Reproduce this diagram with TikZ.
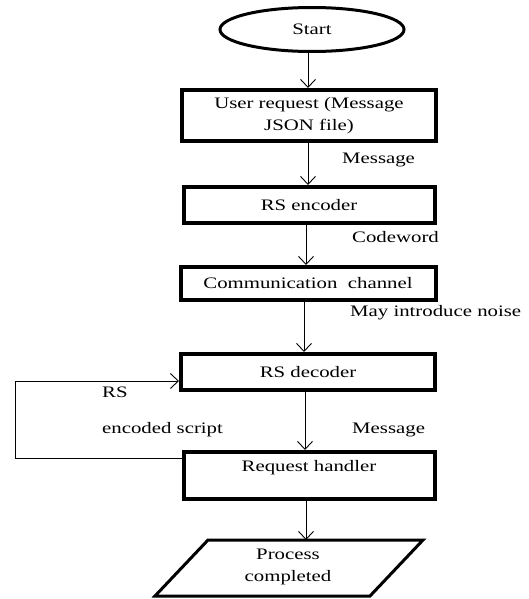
\documentclass[tikz,border=0pt]{standalone}
\usepackage{fontspec}
\setmainfont[FakeStretch=1.3]{Liberation Serif}
\usetikzlibrary{arrows.meta,shapes.geometric,calc}
\begin{document}
\begin{tikzpicture}[x=1pt,y=-1pt,
  font=\fontsize{16}{22}\selectfont,
  boxnode/.style={draw,line width=4pt,rectangle,inner sep=0pt,align=center},
  lbl/.style={anchor=west,inner sep=0pt},
  arr/.style={-{Straight Barb[length=8pt,width=15pt]},line width=0.9pt},
  thin line/.style={line width=0.9pt}]
\useasboundingbox (0,0) rectangle (529,599);
\node[draw,ellipse,line width=3pt,minimum width=184pt,minimum height=44pt,inner sep=0pt] (start) at (312,29.5) {Start};
\node[boxnode,minimum width=254pt,minimum height=51pt] (user) at (309,115.5) {User request (Message\\JSON file)};
\node[boxnode,minimum width=251pt,minimum height=36pt] (enc) at (309,205) {RS encoder};
\node[boxnode,minimum width=255pt,minimum height=33pt] (chan) at (308,283.5) {Communication\ \ channel};
\node[boxnode,minimum width=254pt,minimum height=36pt] (dec) at (308,372) {RS decoder};
\node[boxnode,minimum width=251pt,minimum height=47pt,text height=12pt,text depth=20pt] (hand) at (309,475.5) {Request handler};
% parallelogram
\coordinate (pTL) at (208,540);
\coordinate (pTR) at (423,540);
\coordinate (pBR) at (370,596);
\coordinate (pBL) at (155,596);
\draw[line width=3pt,line join=miter] (pTL) -- (pTR) -- (pBR) -- (pBL) -- cycle;
\node[align=center,inner sep=0pt] (proc) at (288,567) {Process\\completed};
\coordinate (procTop) at (306,540);
% arrows
\draw[arr] (start.south -| 308,0) -- (user.north -| 308,0);
\draw[arr] (user.south -| 308,0) -- (enc.north -| 308,0);
\draw[arr] (enc.south -| 306,0) -- (chan.north -| 306,0);
\draw[arr] (chan.south -| 304,0) -- (dec.north -| 304,0);
\draw[arr] (dec.south -| 305,0) -- (hand.north -| 305,0);
\draw[arr] (hand.south -| 306,0) -- (procTop);
% feedback loop
\coordinate (loopA) at ([yshift=17.5pt]hand.west);
\coordinate (loopB) at ([yshift=-9pt]dec.west);
\draw[arr] (loopA) -- (15,0 |- loopA) -- (15,0 |- loopB) -- (loopB);
% labels
\node[lbl] (m1) at (342,160) {Message};
\node[lbl] (cw) at (352,237) {Codeword};
\node[lbl] (noise) at (350,313) {May introduce noise};
\node[lbl] (rs) at (102,392) {RS};
\node[lbl] (es) at (102,430) {encoded script};
\node[lbl] (m2) at (352,430) {Message};
\end{tikzpicture}
\end{document}
